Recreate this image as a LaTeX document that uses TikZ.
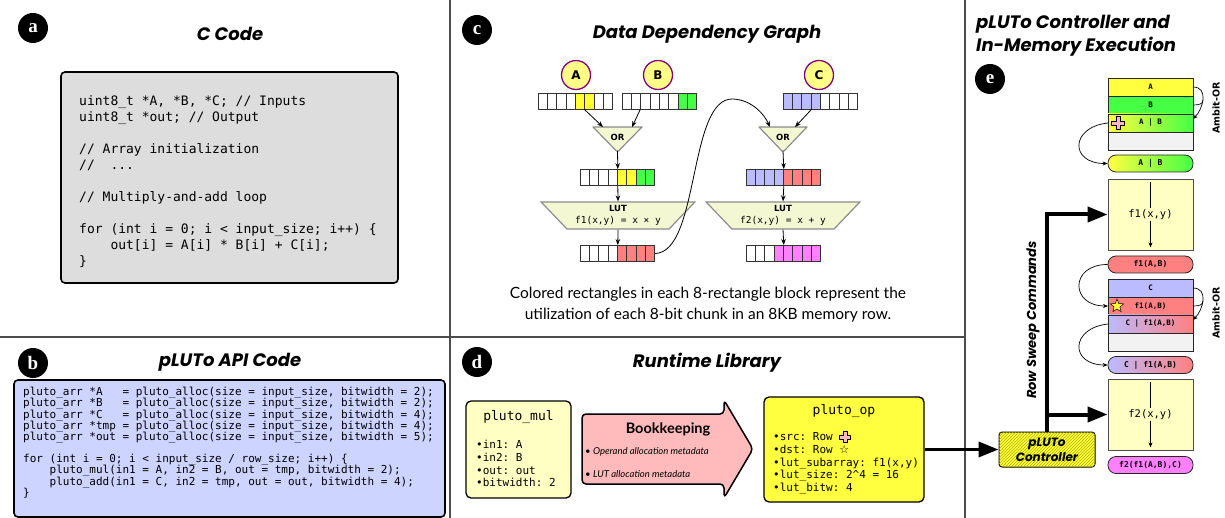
\documentclass[tikz,border=0pt]{standalone}
\usepackage{fontspec}
\setmainfont{Lato}
\setmonofont{DejaVu Sans Mono}
\newfontfamily\headfont{Poppins}
\newfontfamily\tagfont{Liberation Serif}
\newfontfamily\labfont{DejaVu Sans}
\usetikzlibrary{arrows.meta,positioning,shapes.geometric,patterns}

\definecolor{codegray}{HTML}{DDDDDD}
\definecolor{apiblue}{HTML}{CCD4FF}
\definecolor{cellY}{HTML}{FFFF33}
\definecolor{cellG}{HTML}{44FF44}
\definecolor{cellL}{HTML}{BBBBFF}
\definecolor{cellR}{HTML}{FF8080}
\definecolor{cellM}{HTML}{FF80FF}
\definecolor{varfill}{HTML}{FFFF88}
\definecolor{varring}{HTML}{800080}
\definecolor{gatefill}{HTML}{F4F8D2}
\definecolor{paleyellow}{HTML}{FFFFC4}
\definecolor{bookpink}{HTML}{FFBBBB}
\definecolor{opyellow}{HTML}{FFFF40}
\definecolor{emptyrow}{HTML}{F2F2F2}
\definecolor{crosspink}{HTML}{FFB8C8}
\definecolor{hatch}{HTML}{B0B000}

\tikzset{
  divider/.style={line width=1.2pt, draw=black!70},
  tag/.style={circle, fill=black, text=white, minimum size=30pt, inner sep=0pt,
    font=\tagfont\bfseries\fontsize{19}{19}\selectfont},
  paneltitle/.style={inner sep=0pt, font=\headfont\bfseries\itshape\fontsize{18}{23}\selectfont},
  codebox/.style={draw, line width=1.6pt, rounded corners=4pt},
  codetext/.style={align=left, inner sep=0pt, anchor=north west},
  bitcell/.style={draw=black!80, line width=0.8pt, minimum width=9.35pt,
    minimum height=16pt, inner sep=0pt},
  invar/.style={circle, draw=varring, fill=varfill, line width=1.3pt, minimum size=29pt,
    inner sep=0pt, font=\labfont\bfseries\fontsize{12}{12}\selectfont},
  gate/.style={draw=black!45, fill=gatefill, line width=1.2pt, line join=round},
  gatelabel/.style={inner sep=0pt, font=\labfont\bfseries\fontsize{8.5}{9}\selectfont},
  lut/.style={trapezium, trapezium angle=45, shape border rotate=180,
    trapezium stretches=true, minimum width=154pt, minimum height=27pt,
    draw=black!45, fill=gatefill, line width=1.2pt, inner sep=1pt, align=center},
  dep/.style={-{Stealth[length=6pt,width=4.5pt]}, line width=0.8pt},
  caption/.style={align=center, inner sep=0pt, font=\fontsize{15.5}{21}\selectfont},
  membox/.style={draw, line width=1.3pt, rounded corners=5pt},
  boxtitle/.style={inner sep=0pt, font=\ttfamily\fontsize{13}{15}\selectfont},
  bullets/.style={align=left, inner sep=0pt, anchor=north west,
    font=\ttfamily\fontsize{11}{12.8}\selectfont},
  booknote/.style={inner sep=0pt, anchor=west, font=\fontsize{9.5}{11}\selectfont},
  memrow/.style={draw=black!85, line width=0.8pt, minimum width=85pt, minimum height=18pt,
    inner sep=0pt, outer sep=0pt, font=\ttfamily\bfseries\fontsize{7.5}{8}\selectfont},
  pill/.style={draw=black!85, line width=0.8pt, rounded corners=8pt, minimum width=85pt,
    minimum height=17pt, inner sep=0pt, font=\ttfamily\bfseries\fontsize{8}{9}\selectfont},
  fbox/.style={draw=black!70, fill=paleyellow, line width=0.8pt, minimum width=85pt,
    minimum height=71pt},
  ftext/.style={inner sep=1pt, font=\ttfamily\fontsize{10.5}{12}\selectfont},
  flow/.style={-{Stealth[length=5pt,width=4pt]}, line width=0.7pt},
  ambit/.style={inner sep=0pt, rotate=90, font=\labfont\bfseries\fontsize{9.5}{10}\selectfont},
  sweep/.style={line width=4pt, -{Triangle[length=20pt,width=15pt]}},
  ctrl/.style={draw, line width=1pt, rounded corners=3pt, fill=opyellow,
    postaction={pattern=north east lines, pattern color=hatch},
    minimum width=96pt, minimum height=35pt, inner sep=0pt, align=center,
    font=\headfont\bfseries\itshape\fontsize{12}{15}\selectfont},
  starmark/.style={star, star points=5, star point ratio=2.3, draw, fill=cellY,
    line width=0.5pt, minimum size=14pt, inner sep=0pt},
  greekcross/.pic={
    \draw[fill=crosspink, line width=0.5pt, line join=round]
      (-1.9,-5.5) -- (1.9,-5.5) -- (1.9,-1.9) -- (5.5,-1.9) -- (5.5,1.9) -- (1.9,1.9)
      -- (1.9,5.5) -- (-1.9,5.5) -- (-1.9,1.9) -- (-5.5,1.9) -- (-5.5,-1.9)
      -- (-1.9,-1.9) -- cycle;}
}

% one 8-cell memory chunk: name, left x, centre y, colours
\newcommand\bitrow[4]{%
  \foreach [count=\i] \c in {#4}
    \node[bitcell, fill=\c] (#1-\i) at ({#2+(\i-0.5)*9.35},#3) {};
}
\newcommand\crossicon{\tikz[baseline=-3.5pt,x=1pt,y=1pt]\pic{greekcross};}

\begin{document}
\begin{tikzpicture}[x=1pt,y=-1pt]
\useasboundingbox (0,0) rectangle (1225,518);

% panel frames
\draw[divider] (450,0) -- (450,518);
\draw[divider] (0,337) -- (965,337);
\draw[divider] (965,0) -- (965,518);

% (a) C code
\node[tag] (taga) at (33,28) {a};
\node[paneltitle] (titlea) at (230,34) {C Code};
\node[codebox, fill=codegray, minimum width=337pt, minimum height=211pt] (cbox) at (229.5,177.5) {};
\node[codetext, font=\ttfamily\fontsize{13}{16}\selectfont] (ccode) at (79,95) {%
uint8\_t *A, *B, *C; // Inputs\\
uint8\_t *out; // Output\\[16pt]
// Array initialization\\
//\ \ ...\\[16pt]
// Multiply-and-add loop\\[16pt]
for (int i = 0; i < input\_size; i++) \{\\
\ \ \ \ out[i] = A[i] * B[i] + C[i];\\
\}};

% (b) pLUTo API code
\node[tag] (tagb) at (33,363) {b};
\node[paneltitle] (titleb) at (230,362) {pLUTo API Code};
\node[codebox, fill=apiblue, minimum width=431pt, minimum height=137pt] (apibox) at (229.5,448.5) {};
\node[codetext, font=\ttfamily\fontsize{11}{11.2}\selectfont] (apicode) at (23,387) {%
pluto\_arr *A\ \ \ = pluto\_alloc(size = input\_size, bitwidth = 2);\\
pluto\_arr *B\ \ \ = pluto\_alloc(size = input\_size, bitwidth = 2);\\
pluto\_arr *C\ \ \ = pluto\_alloc(size = input\_size, bitwidth = 4);\\
pluto\_arr *tmp = pluto\_alloc(size = input\_size, bitwidth = 4);\\
pluto\_arr *out = pluto\_alloc(size = input\_size, bitwidth = 5);\\[11pt]
for (int i = 0; i < input\_size / row\_size; i++) \{\\
\ \ \ \ pluto\_mul(in1 = A, in2 = B, out = tmp, bitwidth = 2);\\
\ \ \ \ pluto\_add(in1 = C, in2 = tmp, out = out, bitwidth = 4);\\
\}};

% (c) data dependency graph
\node[tag] (tagc) at (477,30) {c};
\node[paneltitle] (titlec) at (707,34) {Data Dependency Graph};
\node[invar] (varA) at (576,75) {A};
\node[invar] (varB) at (658,75) {B};
\node[invar] (varC) at (819,75) {C};
\bitrow{arrA}{538}{101}{white,white,white,white,cellY,cellY,white,white}
\bitrow{arrB}{622}{101}{white,white,white,white,white,white,cellG,cellG}
\bitrow{arrC}{783}{101}{cellL,cellL,cellL,cellL,white,white,white,white}
\bitrow{arrOR1}{580}{177.5}{white,white,white,white,cellY,cellY,cellG,cellG}
\bitrow{arrOR2}{746}{177.5}{cellL,cellL,cellL,cellL,cellR,cellR,cellR,cellR}
\bitrow{arrF1}{580}{253.5}{white,white,white,white,cellR,cellR,cellR,cellR}
\bitrow{arrF2}{746}{253.5}{white,white,white,cellM,cellM,cellM,cellM,cellM}

\draw[gate] (593,127) -- (642,127) -- (618.5,151) -- (616.5,151) -- cycle;
\node[gatelabel] (or1) at (617.5,137) {OR};
\coordinate (or1-a) at (603,127);
\coordinate (or1-b) at (632,127);
\coordinate (or1-y) at (617.5,151);
\draw[gate] (759,127) -- (807,127) -- (784,151) -- (782,151) -- cycle;
\node[gatelabel] (or2) at (783,137) {OR};
\coordinate (or2-a) at (770,127);
\coordinate (or2-b) at (795,127);
\coordinate (or2-y) at (783,151);

\node[lut] (lut1) at (618,215.5) {{\labfont\bfseries\fontsize{8.5}{11}\selectfont LUT}\\
  {\ttfamily\fontsize{9.5}{11}\selectfont f1(x,y) = x × y}};
\node[lut] (lut2) at (783,215.5) {{\labfont\bfseries\fontsize{8.5}{11}\selectfont LUT}\\
  {\ttfamily\fontsize{9.5}{11}\selectfont f2(x,y) = x + y}};

\draw[dep] (arrA-6.south west) -- (or1-a);
\draw[dep] (arrB-3.south west) -- (or1-b);
\draw[dep] (arrC-3.south east) -- (or2-b);
\draw[dep] (or1-y) -- (arrOR1-4.north east);
\draw[dep] (or2-y) -- (arrOR2-4.north east);
\draw[dep] (arrOR1-4.south east) -- (lut1.north);
\draw[dep] (arrOR2-4.south east) -- (lut2.north);
\draw[dep] (lut1.south) -- (arrF1-4.north east);
\draw[dep] (lut2.south) -- (arrF2-4.north east);
\draw[dep] (arrF1-8.east) .. controls (700,252) and (688,97) .. (733,99)
  .. controls (752,100) and (764,114) .. (or2-a);

\node[caption] (note) at (708,304.5) {Colored rectangles in each 8-rectangle block represent the\\
  utilization of each 8-bit chunk in an 8KB memory row.};

% (d) runtime library
\node[tag] (tagd) at (477,362) {d};
\node[paneltitle] (titled) at (707,363) {Runtime Library};
\node[membox, fill=paleyellow, minimum width=105pt, minimum height=97pt] (mulbox) at (518.5,449.5) {};
\node[boxtitle] (multitle) at (518.5,417) {pluto\_mul};
\node[bullets] (mulargs) at (476,440) {•in1: A\\•in2: B\\•out: out\\•bitwidth: 2};

\draw[line width=1.5pt, fill=bookpink, rounded corners=4pt, line join=round]
  (582,414) -- (724,414) -- (724,400) -- (753,449) -- (724,498) -- (724,484) -- (582,484) -- cycle;
\node[inner sep=0pt, font=\bfseries\fontsize{14.5}{16}\selectfont] (booktitle) at (668,429) {Bookkeeping};
\node[booknote] (booknote1) at (585,452) {• \textit{Operand allocation metadata}};
\node[booknote] (booknote2) at (585,474) {• \textit{LUT allocation metadata}};

\node[membox, fill=opyellow, minimum width=160pt, minimum height=105pt] (opbox) at (844,449.5) {};
\node[boxtitle] (optitle) at (844,411) {pluto\_op};
\node[bullets] (opargs) at (773,431) {•src: Row \crossicon\\
  •dst: Row {\labfont\bfseries ☆}\\
  •lut\_subarray: f1(x,y)\\
  •lut\_size: 2\textasciicircum 4 = 16\\
  •lut\_bitw: 4};

% (e) controller and in-memory execution
\node[paneltitle, anchor=west, align=left] (titlee) at (976,35.5) {pLUTo Controller and\\In-Memory Execution};
\node[tag] (tage) at (990,79) {e};

\node[memrow, fill=opyellow] (rowA) at (1150.5,87) {A};
\node[memrow, fill=cellG, below=0pt of rowA] (rowB) {B};
\node[memrow, left color=opyellow, right color=cellG, below=0pt of rowB] (rowAB) {A | B};
\node[memrow, fill=emptyrow, below=0pt of rowAB] (rowE1) {};
\pic[scale=1.15] at ([xshift=10pt]rowAB.west) {greekcross};
\node[pill, left color=opyellow, right color=cellG] (pillAB) at (1150.5,163.5) {A | B};
\node[fbox] (f1box) at (1150.5,214.5) {};
\node[ftext] (f1txt) at (f1box) {f1(x,y)};
\node[pill, fill=cellR] (pillF1) at (1150.5,264.5) {f1(A,B)};

\node[memrow, fill=cellL] (rowC) at (1150.5,288) {C};
\node[memrow, fill=cellR, below=0pt of rowC] (rowF1) {f1(A,B)};
\node[memrow, left color=cellL, right color=cellR, below=0pt of rowF1] (rowCF) {C | f1(A,B)};
\node[memrow, fill=emptyrow, below=0pt of rowCF] (rowE2) {};
\node[starmark] (starF1) at ([xshift=9pt]rowF1.west) {};
\node[pill, left color=cellL, right color=cellR] (pillCF) at (1150.5,365) {C | f1(A,B)};
\node[fbox] (f2box) at (1150.5,414.5) {};
\node[ftext] (f2txt) at (f2box) {f2(x,y)};
\node[pill, fill=cellM] (pillF2) at (1150.5,465) {f2(f1(A,B),C)};

\draw[line width=0.7pt] ([yshift=-3pt]f1box.north) -- (f1txt.north);
\draw[flow] (f1txt.south) -- ([yshift=3pt]f1box.south);
\draw[line width=0.7pt] ([yshift=-3pt]f2box.north) -- (f2txt.north);
\draw[flow] (f2txt.south) -- ([yshift=3pt]f2box.south);

\coordinate (join1) at (1203,100);
\draw[flow] (rowA.east) .. controls +(16,0) and +(10,-10) .. ([yshift=4pt]rowAB.east);
\draw[line width=0.7pt] (rowB.east) .. controls +(6,0) and +(0,4) .. (join1);
\node[ambit] (ambit1) at (1216,108) {Ambit-OR};
\coordinate (join2) at (1203,301);
\draw[flow] (rowC.east) .. controls +(16,0) and +(10,-10) .. ([yshift=4pt]rowCF.east);
\draw[line width=0.7pt] (rowF1.east) .. controls +(6,0) and +(0,4) .. (join2);
\node[ambit] (ambit2) at (1216,313) {Ambit-OR};

\draw[flow] (rowAB.west) .. controls +(-38,4) and +(-38,0) .. (pillAB.west);
\draw[flow] (pillF1.west) .. controls +(-38,0) and +(-38,0) .. (rowF1.west);
\draw[flow] (rowCF.west) .. controls +(-38,4) and +(-38,0) .. (pillCF.west);

\node[ctrl] (ctrl) at (1047,449.5) {pLUTo\\Controller};
\coordinate (sweeptop) at (ctrl.north |- f1box.west);
\draw[sweep] (ctrl.north) -- (sweeptop) -- (f1box.west);
\draw[sweep] (ctrl.north |- f2box.west) -- (f2box.west);
\node[paneltitle, rotate=90, font=\headfont\bfseries\itshape\fontsize{13}{15}\selectfont] (sweeptxt) at (1033,320) {Row Sweep Commands};
\draw[line width=3.5pt, -{Triangle[length=20pt,width=15pt]}] (opbox.east) -- (ctrl.west);
\end{tikzpicture}
\end{document}
